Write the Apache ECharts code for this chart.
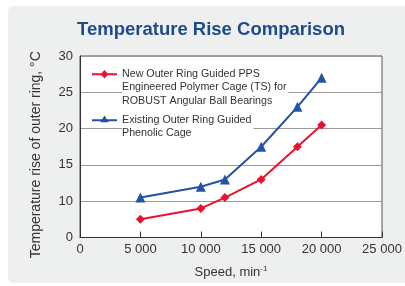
<!DOCTYPE html>
<html>
<head>
<meta charset="utf-8">
<script src="https://cdn.jsdelivr.net/npm/echarts@6/dist/echarts.min.js"></script>
<style>
  html, body { margin: 0; padding: 0; background: #fff; }
  #chart { width: 405px; height: 286px; }
</style>
</head>
<body>
<div id="chart"></div>
<script>
// speeds, min-1
const speeds = [5000, 10000, 12000, 15000, 18000, 20000]
// temperature rise (broken axis: lowest tick labelled 0 sits at 5)
const ppsCage = [7.5, 9.0, 10.5, 13.0, 17.5, 20.5]
const phenolicCage = [10.5, 12.0, 13.0, 17.5, 23.0, 27.0]
const seriesNames = [
  'New Outer Ring Guided PPS\nEngineered Polymer Cage (TS) for\nROBUST Angular Ball Bearings',
  'Existing Outer Ring Guided\nPhenolic Cage'
]
const xTicks = [0, 5000, 10000, 15000, 20000, 25000]

const fmtThousands = v => v === 0 ? '0' : String(v).replace(/\B(?=(\d{3})+(?!\d))/g, ' ')

// legend icons: line + marker drawn at the first text line, box 26x40
const redIcon = 'path://M0,5.5H26V7.5H0Z M13,2L17,6.5L13,11L9,6.5Z M0,40H0.1V40.1H0Z M0,0H0.1V0.1H0Z'
const blueIcon = 'path://M0,12.3H26V14.3H0Z M13,8.3L17.5,15.3H8.5Z M0,40H0.1V40.1H0Z M0,0H0.1V0.1H0Z'

const myChart = echarts.init(document.getElementById('chart'))

const option = {
  backgroundColor: '#fff',
  animation: false,
  textStyle: { fontFamily: 'Liberation Sans, Arial, sans-serif' },
  graphic: [{
    type: 'rect',
    z: -10,
    shape: { x: 8, y: 6, width: 405, height: 277, r: 6 },
    style: { fill: '#eeefef' }
  }],
  title: {
    text: 'Temperature Rise Comparison',
    left: 77,
    top: 20,
    padding: 0,
    textStyle: { fontSize: 18.5, fontWeight: 'bold', color: '#1f4b8e' }
  },
  legend: {
    orient: 'vertical',
    left: 92,
    top: 67,
    padding: 0,
    itemWidth: 25,
    itemHeight: 40,
    itemGap: 0,
    data: [
      { name: seriesNames[0], icon: redIcon },
      { name: seriesNames[1], icon: blueIcon }
    ],
    textStyle: {
      fontSize: 10.7,
      color: '#333',
      lineHeight: 13.5,
      backgroundColor: '#fff',
      padding: [0, 2, 0, 0]
    }
  },
  grid: {
    left: 80,
    right: 23,
    top: 56,
    bottom: 48.5,
    show: true,
    backgroundColor: '#fff',
    borderColor: '#555',
    borderWidth: 1
  },
  xAxis: {
    type: 'value',
    min: 0,
    max: 25000,
    interval: 5000,
    name: '{a|Speed, min}{s|-1}',
    nameLocation: 'middle',
    nameGap: 27,
    nameTextStyle: {
      rich: {
        a: { fontSize: 13, color: '#333' },
        s: { fontSize: 8, color: '#333', padding: [0, 0, 7, 0] }
      }
    },
    axisLine: { lineStyle: { color: '#333' } },
    axisTick: { show: true, inside: true, length: 6, lineStyle: { color: '#333' } },
    splitLine: { show: false },
    axisLabel: {
      fontSize: 13,
      color: '#333',
      margin: 5,
      formatter: v => xTicks.includes(v) ? fmtThousands(v) : ''
    }
  },
  yAxis: {
    type: 'value',
    min: 5,
    max: 30,
    interval: 5,
    name: 'Temperature rise of outer ring, °C',
    nameLocation: 'middle',
    nameGap: 37,
    nameTextStyle: { fontSize: 14, color: '#333', padding: [0, 16, 0, 0] },
    axisLine: { show: true, lineStyle: { color: '#333' } },
    axisTick: { show: false },
    splitLine: { lineStyle: { color: '#9a9a9a', width: 1 } },
    axisLabel: {
      fontSize: 13,
      color: '#333',
      margin: 7,
      formatter: v => v === 5 ? '0' : String(v)
    }
  },
  series: [
    {
      name: seriesNames[0],
      type: 'line',
      data: speeds.map((s, i) => [s, ppsCage[i]]),
      symbol: 'diamond',
      symbolSize: 9,
      lineStyle: { color: '#e8132f', width: 2 },
      itemStyle: { color: '#e8132f' },
      z: 3
    },
    {
      name: seriesNames[1],
      type: 'line',
      data: speeds.map((s, i) => [s, phenolicCage[i]]),
      symbol: 'triangle',
      symbolSize: 10,
      lineStyle: { color: '#2353a3', width: 2 },
      itemStyle: { color: '#2353a3' },
      z: 3
    }
  ]
}

option && myChart.setOption(option)
</script>
</body>
</html>
